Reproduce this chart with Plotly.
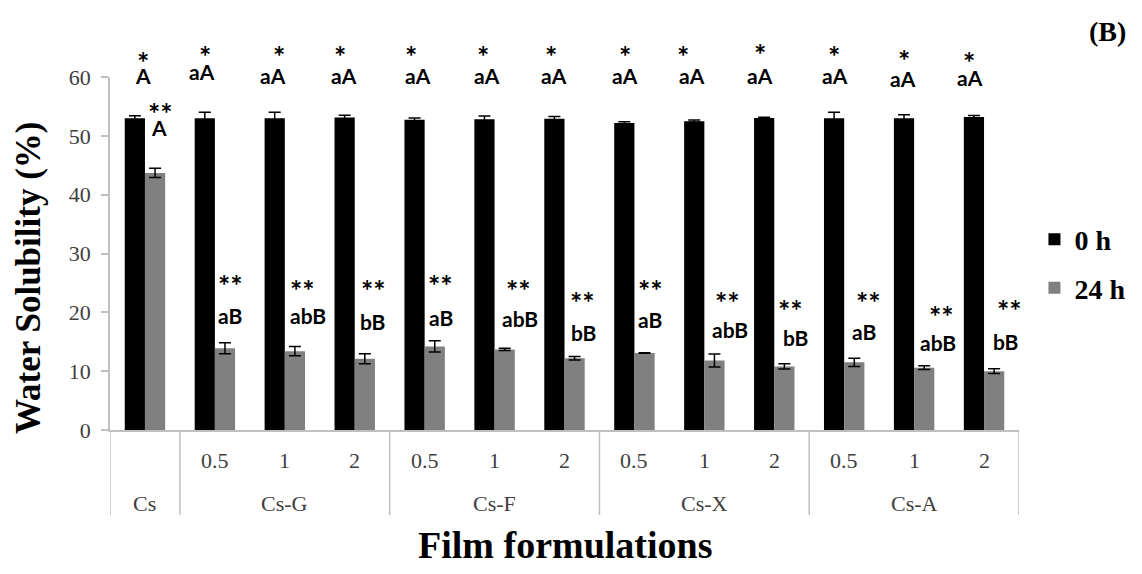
import plotly.graph_objects as go

# ---------------- data ----------------
groups = ["Cs", "Cs-G", "Cs-F", "Cs-X", "Cs-A"]
group_span = [(0, 0), (1, 3), (4, 6), (7, 9), (10, 12)]
conc_labels = ["", "0.5", "1", "2", "0.5", "1", "2", "0.5", "1", "2", "0.5", "1", "2"]

sol_0h = [53.0, 53.0, 53.0, 53.1, 52.75, 52.8, 52.9, 52.2, 52.5, 53.05, 53.0, 53.0, 53.2]
err_0h = [0.4, 1.0, 1.0, 0.4, 0.3, 0.55, 0.4, 0.2, 0.2, 0.1, 1.0, 0.6, 0.25]
sol_24h = [43.7, 13.9, 13.4, 12.1, 14.2, 13.7, 12.2, 13.1, 11.8, 10.8, 11.5, 10.6, 10.0]
err_24h = [0.8, 0.95, 0.8, 0.85, 0.95, 0.2, 0.3, 0.05, 1.1, 0.45, 0.7, 0.3, 0.4]

sig_0h = ["*"] * 13
let_0h = ["A"] + ["aA"] * 12
sig_24h = ["**"] * 13
let_24h = ["A", "aB", "abB", "bB", "aB", "abB", "bB", "aB", "abB", "bB", "aB", "abB", "bB"]

# label placement (heights in axis units, x offsets in px from category centre)
star0_y = [63.9, 64.9, 64.8, 64.8, 64.8, 64.8, 64.8, 64.8, 64.8, 65.1, 64.9, 64.1, 63.9]
let0_y = [60.2, 61.0, 60.3, 60.3, 60.2, 60.2, 60.2, 60.2, 60.2, 60.2, 60.2, 59.7, 60.0]
star24_y = [55.2, 26.0, 25.0, 25.0, 26.0, 25.0, 23.1, 25.0, 23.1, 21.6, 23.1, 20.6, 21.6]
let24_y = [51.5, 19.4, 19.5, 18.4, 19.2, 19.0, 16.5, 18.7, 17.0, 15.8, 16.7, 14.8, 15.0]
star0_dx = [-2, -10, -6, -15, -14, -12, -14, -9, -21, -14, -10, -10, -15]
let0_dx = [-2, -13, -12, -11, -7, -8, -11, -9, -12, -14, -9, -11, -14]
star24_dx = [16, 16, 18, 19, 16, 24, 18, 16, 23, 16, 24, 27, 25]
let24_dx = [14, 15, 23, 18, 16, 25, 19, 16, 26, 21, 20, 24, 21]

x = list(range(13))
YMAX = 60

SERIF = "Liberation Serif, Times New Roman, serif"
LBL = "Lato, Open Sans, sans-serif"
AXIS_GRAY = "#BFBFBF"
TICK_COL = "#404040"

fig = go.Figure()
fig.add_trace(go.Bar(
    x=x, y=sol_0h, name="<b>0 h</b>", legendgroup="a",
    marker=dict(color="#000000", line=dict(width=0)),
    error_y=dict(type="data", array=err_0h, color="#000000", thickness=1.5, width=6),
))
fig.add_trace(go.Bar(
    x=x, y=sol_24h, name="<b>24 h</b>", legendgroup="b",
    marker=dict(color="#808080", line=dict(width=0)),
    error_y=dict(type="data", array=err_24h, color="#000000", thickness=1.5, width=6),
))


def lab(i, yv, txt, dx, size, ysh=0):
    return dict(x=i, y=yv / YMAX, xref="x", yref="paper", text=f"<b>{txt}</b>",
                xshift=dx, yshift=ysh, showarrow=False, xanchor="center", yanchor="middle",
                font=dict(family=LBL, size=size, color="black"))


ann = []
for i in x:
    ann.append(lab(i, star0_y[i], sig_0h[i], star0_dx[i], 29, -7))
    ann.append(lab(i, let0_y[i], let_0h[i], let0_dx[i], 21))
    ann.append(lab(i, star24_y[i], sig_24h[i], star24_dx[i], 29, -7))
    ann.append(lab(i, let24_y[i], let_24h[i], let24_dx[i], 21))
    # inner category labels
    ann.append(dict(x=i, y=0, xref="x", yref="paper", text=conc_labels[i], yanchor="middle",
                    yshift=-30, showarrow=False, font=dict(family=SERIF, size=22, color=TICK_COL)))

# outer group labels
for g, (a, b) in zip(groups, group_span):
    ann.append(dict(x=(a + b) / 2, y=0, xref="x", yref="paper", text=g, yanchor="middle",
                    yshift=-73, showarrow=False, font=dict(family=SERIF, size=22, color=TICK_COL)))

# axis titles and panel tag
ann.append(dict(x=-0.089, y=0.431, xref="paper", yref="paper", text="<b>Water Solubility (%)</b>",
                textangle=-90, showarrow=False, xanchor="center", yanchor="middle",
                font=dict(family=SERIF, size=35, color="black")))
ann.append(dict(x=0.5, y=-0.327, xref="paper", yref="paper", text="<b>Film formulations</b>",
                showarrow=False, xanchor="center", yanchor="middle",
                font=dict(family=SERIF, size=38, color="black")))
ann.append(dict(x=1.097, y=1.128, xref="paper", yref="paper", text="<b>(B)</b>",
                showarrow=False, xanchor="center", yanchor="middle",
                font=dict(family=SERIF, size=28, color="black")))

# category dividers
shapes = []
for xv in [-0.5, 0.5, 3.5, 6.5, 9.5, 12.5]:
    shapes.append(dict(type="line", xref="x", yref="paper", x0=xv, x1=xv, y0=0, y1=-0.2408,
                       line=dict(color=AXIS_GRAY, width=1.5)))

fig.update_layout(
    width=1142, height=574,
    margin=dict(l=110, r=114, t=77, b=144),
    paper_bgcolor="white", plot_bgcolor="white",
    barmode="group", bargap=0.422, bargroupgap=0,
    showlegend=True,
    legend=dict(x=1.017, y=0.61, xanchor="left", yanchor="top", traceorder="grouped",
                tracegroupgap=9, itemwidth=30,
                font=dict(family=SERIF, size=28, color="black"), bgcolor="rgba(0,0,0,0)"),
    xaxis=dict(range=[-0.5, 12.5], showticklabels=False, ticks="", showgrid=False,
               zeroline=False, showline=True, linecolor=AXIS_GRAY, linewidth=1.5, fixedrange=True),
    yaxis=dict(range=[0, YMAX], tickvals=[0, 10, 20, 30, 40, 50, 60], showgrid=False, zeroline=False,
               showline=True, linecolor=AXIS_GRAY, linewidth=1.5, ticks="outside", ticklen=7,
               tickcolor=AXIS_GRAY, tickwidth=1.5, ticklabelstandoff=6,
               tickfont=dict(family=SERIF, size=22, color=TICK_COL), fixedrange=True),
    annotations=ann, shapes=shapes,
)

fig.write_html("out.html", config={"displayModeBar": False},
               post_script="document.body.style.margin='0';document.body.style.padding='0';")
